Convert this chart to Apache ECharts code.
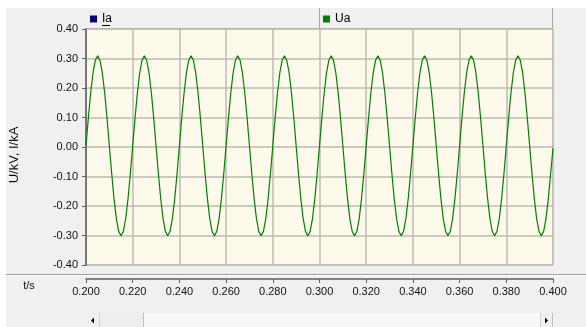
<!DOCTYPE html>
<html>
<head>
<meta charset="utf-8">
<script src="https://cdn.jsdelivr.net/npm/echarts@6/dist/echarts.min.js"></script>
<style>
html,body{margin:0;padding:0;background:#ffffff;}
#wrap{position:relative;width:586px;height:327px;background:#ffffff;overflow:hidden;}
#panel{position:absolute;left:6px;top:8px;width:580px;height:319px;background:#f0f0f0;}
#chart{position:absolute;left:0;top:0;width:586px;height:327px;}
</style>
</head>
<body>
<div id="wrap"><div id="panel"></div><div id="chart"></div></div>
<script>
// Time axis sampling (s)
const tStart = 0.200;
const tStep = 0.001;
// Ua values, one per ms from 0.200 s to 0.400 s
const uaValues = [
 0.004,0.098,0.183,0.251,0.294,0.309,0.294,0.251,0.183,0.098,0.004,-0.090,-0.175,-0.243,-0.286,-0.301,-0.286,-0.243,-0.175,-0.090,
 0.004,0.098,0.183,0.251,0.294,0.309,0.294,0.251,0.183,0.098,0.004,-0.090,-0.175,-0.243,-0.286,-0.301,-0.286,-0.243,-0.175,-0.090,
 0.004,0.098,0.183,0.251,0.294,0.309,0.294,0.251,0.183,0.098,0.004,-0.090,-0.175,-0.243,-0.286,-0.301,-0.286,-0.243,-0.175,-0.090,
 0.004,0.098,0.183,0.251,0.294,0.309,0.294,0.251,0.183,0.098,0.004,-0.090,-0.175,-0.243,-0.286,-0.301,-0.286,-0.243,-0.175,-0.090,
 0.004,0.098,0.183,0.251,0.294,0.309,0.294,0.251,0.183,0.098,0.004,-0.090,-0.175,-0.243,-0.286,-0.301,-0.286,-0.243,-0.175,-0.090,
 0.004,0.098,0.183,0.251,0.294,0.309,0.294,0.251,0.183,0.098,0.004,-0.090,-0.175,-0.243,-0.286,-0.301,-0.286,-0.243,-0.175,-0.090,
 0.004,0.098,0.183,0.251,0.294,0.309,0.294,0.251,0.183,0.098,0.004,-0.090,-0.175,-0.243,-0.286,-0.301,-0.286,-0.243,-0.175,-0.090,
 0.004,0.098,0.183,0.251,0.294,0.309,0.294,0.251,0.183,0.098,0.004,-0.090,-0.175,-0.243,-0.286,-0.301,-0.286,-0.243,-0.175,-0.090,
 0.004,0.098,0.183,0.251,0.294,0.309,0.294,0.251,0.183,0.098,0.004,-0.090,-0.175,-0.243,-0.286,-0.301,-0.286,-0.243,-0.175,-0.090,
 0.004,0.098,0.183,0.251,0.294,0.309,0.294,0.251,0.183,0.098,0.004,-0.090,-0.175,-0.243,-0.286,-0.301,-0.286,-0.243,-0.175,-0.090,
 -0.004
];
// Ia values: not visible in the picture
const iaValues = [];
const seriesNames = ['Ia', 'Ua'];
const xTicks = { min: 0.2, max: 0.4, interval: 0.02 };
const yTicks = { min: -0.4, max: 0.4, interval: 0.1 };
const yAxisTitle = 'U/kV, I/kA';
const xAxisTitle = 't/s';

const uaData = uaValues.map((v, i) => [tStart + i * tStep, v]);

const chart = echarts.init(document.getElementById('chart'), null, {renderer: 'canvas'});
const FONT = 'Liberation Sans, Arial, sans-serif';

const option = {
  backgroundColor: 'transparent',
  animation: false,
  legend: [
    {data: [seriesNames[0]], left: 90, top: 13, padding: 0, itemWidth: 7, itemHeight: 7, itemGap: 5, icon: 'rect', selectedMode: false,
     textStyle: {fontFamily: FONT, fontSize: 12, color: '#000'}},
    {data: [seriesNames[1]], left: 323, top: 13, padding: 0, itemWidth: 7, itemHeight: 7, itemGap: 5, icon: 'rect', selectedMode: false,
     textStyle: {fontFamily: FONT, fontSize: 12, color: '#000'}}
  ],
  grid: {left: 86, right: 33, top: 29, bottom: 62, show: true, backgroundColor: '#fdfaeb', borderColor: '#c4c4c4', borderWidth: 1, containLabel: false},
  xAxis: {
    type: 'value', min: xTicks.min, max: xTicks.max, interval: xTicks.interval, position: 'bottom', offset: 14,
    axisLine: {show: true, onZero: false, lineStyle: {color: '#606060', width: 1.5}},
    axisTick: {show: true, inside: false, length: 4, lineStyle: {color: '#606060'}},
    axisLabel: {margin: 7, fontFamily: FONT, fontSize: 11, color: '#111', formatter: v => v.toFixed(3)},
    splitLine: {show: true, lineStyle: {color: '#bdbab0', width: 1.5}}
  },
  yAxis: {
    type: 'value', min: yTicks.min, max: yTicks.max, interval: yTicks.interval,
    axisLine: {show: true, onZero: false, lineStyle: {color: '#777', width: 2}},
    axisTick: {show: true, inside: false, length: 4, lineStyle: {color: '#606060'}},
    axisLabel: {margin: 8, fontFamily: FONT, fontSize: 11, color: '#111', formatter: v => v.toFixed(2)},
    splitLine: {show: true, lineStyle: {color: '#bdbab0', width: 1.5}}
  },
  series: [
    {name: seriesNames[0], type: 'line', data: iaValues, color: '#000080', showSymbol: false},
    {name: seriesNames[1], type: 'line', data: uaData, color: '#008000', showSymbol: false, lineStyle: {width: 1.2, color: '#008000'}}
  ],
  graphic: [
    // legend bar cells
    {type: 'rect', shape: {x: 86, y: 8, width: 233, height: 20}, style: {fill: '#f0f0f0', stroke: null}, z: -1},
    {type: 'rect', shape: {x: 319, y: 8, width: 234, height: 20}, style: {fill: '#f0f0f0', stroke: null}, z: -1},
    {type: 'line', shape: {x1: 86, y1: 28.5, x2: 553, y2: 28.5}, style: {stroke: '#a8a8a8', lineWidth: 1}},
    {type: 'line', shape: {x1: 319.5, y1: 8, x2: 319.5, y2: 28}, style: {stroke: '#a8a8a8', lineWidth: 1}},
    {type: 'line', shape: {x1: 552.5, y1: 8, x2: 552.5, y2: 28}, style: {stroke: '#a8a8a8', lineWidth: 1}},
    {type: 'line', shape: {x1: 102, y1: 25.5, x2: 110, y2: 25.5}, style: {stroke: '#000', lineWidth: 1}},
    // axis titles
    {type: 'text', x: 14.5, y: 155, rotation: Math.PI / 2,
     style: {text: yAxisTitle, fontFamily: FONT, fontSize: 13, fill: '#111', textAlign: 'center', textVerticalAlign: 'middle'}},
    {type: 'text', x: 29, y: 286,
     style: {text: xAxisTitle, fontFamily: FONT, fontSize: 11, fill: '#111', textAlign: 'center', textVerticalAlign: 'middle'}},
    // separator
    {type: 'line', shape: {x1: 6, y1: 274.5, x2: 586, y2: 274.5}, style: {stroke: '#a0a0a0', lineWidth: 1}},
    {type: 'line', shape: {x1: 6, y1: 275.5, x2: 586, y2: 275.5}, style: {stroke: '#ffffff', lineWidth: 1}},
    // scrollbar
    {type: 'rect', shape: {x: 87, y: 313, width: 466, height: 14}, style: {fill: '#f8f8f8'}},
    {type: 'rect', shape: {x: 87, y: 313, width: 13, height: 14}, style: {fill: '#f0f0f0'}},
    {type: 'rect', shape: {x: 100, y: 313, width: 43, height: 14}, style: {fill: '#eeeeee'}},
    {type: 'line', shape: {x1: 99.5, y1: 313, x2: 99.5, y2: 327}, style: {stroke: '#d0d0d0', lineWidth: 1}},
    {type: 'line', shape: {x1: 143.5, y1: 313, x2: 143.5, y2: 327}, style: {stroke: '#c0c0c0', lineWidth: 1}},
    {type: 'polygon', shape: {points: [[91, 320.5], [94, 317.5], [94, 323.5]]}, style: {fill: '#000'}},
    {type: 'rect', shape: {x: 540, y: 313, width: 13, height: 14}, style: {fill: '#f0f0f0'}},
    {type: 'line', shape: {x1: 540.5, y1: 313, x2: 540.5, y2: 327}, style: {stroke: '#d0d0d0', lineWidth: 1}},
    {type: 'line', shape: {x1: 552.5, y1: 313, x2: 552.5, y2: 327}, style: {stroke: '#c0c0c0', lineWidth: 1}},
    {type: 'polygon', shape: {points: [[548, 320.5], [545, 317.5], [545, 323.5]]}, style: {fill: '#000'}}
  ]
};
chart.setOption(option);
</script>
</body>
</html>
